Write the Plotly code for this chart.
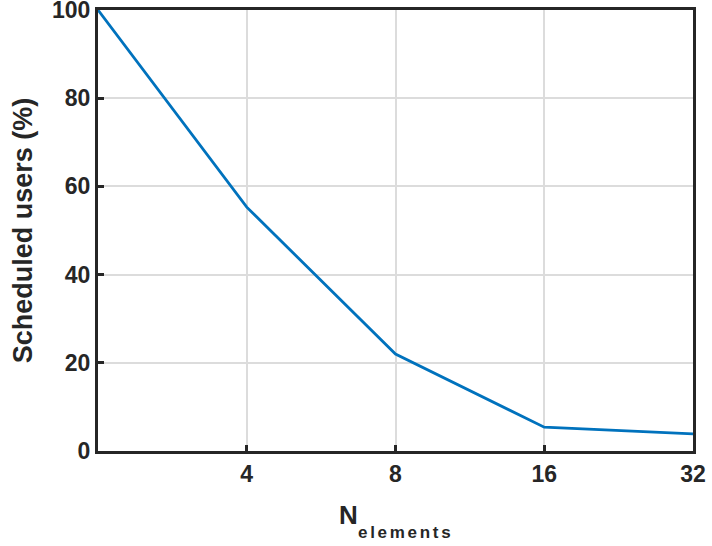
import math
import plotly.graph_objects as go

# Number of antenna elements and share of users that get scheduled
n_elements = [2, 4, 8, 16, 32]
scheduled_pct = [100, 55.3, 22.0, 5.4, 3.9]

x_ticks = [4, 8, 16, 32]
x_tick_labels = ["4", "8", "16", "32"]
y_ticks = [0, 20, 40, 60, 80, 100]

FONT = "Liberation Sans, Arial, Helvetica, sans-serif"
INK = "#262626"

fig = go.Figure()
fig.add_trace(go.Scatter(
    x=n_elements, y=scheduled_pct, mode="lines",
    line=dict(color="#0072BD", width=2.8),
    showlegend=False, cliponaxis=False,
))

axis_common = dict(
    showline=True, linecolor=INK, linewidth=3, mirror=True,
    ticks="inside", ticklen=6, tickwidth=3, tickcolor=INK,
    showgrid=True, gridcolor="#dcdcdc", gridwidth=2,
    zeroline=False, automargin=False, ticklabeloverflow="allow",
    tickfont=dict(family=FONT, size=23, color=INK, weight="bold"),
)

fig.update_xaxes(
    type="log", range=[math.log10(2), math.log10(32)],
    tickmode="array", tickvals=x_ticks, ticktext=x_tick_labels,
    **axis_common,
)
fig.update_yaxes(
    range=[0, 100], tickmode="array", tickvals=y_ticks,
    title=dict(text="Scheduled users (%)", standoff=12,
               font=dict(family=FONT, size=27, color=INK, weight="bold")),
    **axis_common,
)

# x-axis title: "N" with a lowered "elements" subscript
fig.add_annotation(
    text="N", xref="paper", yref="paper", x=0.4017, y=0,
    xanchor="left", yanchor="top", yshift=-47, showarrow=False,
    font=dict(family=FONT, size=26, color=INK, weight="bold"),
)
fig.add_annotation(
    text="<span style='letter-spacing:2.7px'>elements</span>",
    xref="paper", yref="paper", x=0.4328, y=0,
    xanchor="left", yanchor="top", yshift=-70, showarrow=False,
    font=dict(family=FONT, size=17, color=INK, weight="bold"),
)

fig.update_layout(
    width=712, height=546,
    margin=dict(l=98, r=19, t=10, b=95),
    paper_bgcolor="white", plot_bgcolor="white",
)

fig.write_html("out.html")
